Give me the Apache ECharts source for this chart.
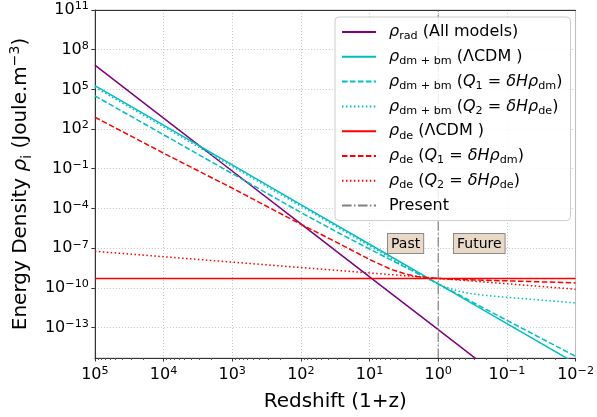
<!DOCTYPE html>
<html><head><meta charset="utf-8">
<script src="https://cdn.jsdelivr.net/npm/echarts@6/dist/echarts.min.js"></script>
<style>html,body{margin:0;padding:0;background:#fff}#c{width:597px;height:417px}</style>
</head><body><div id="c"></div>
<script>
// ---- data ----
const xDecades = [1e5, 1e4, 1e3, 1e2, 1e1, 1, 1e-1, 1e-2];
const xFine = [1e5, 1e4, 1e3, 1e2, 30, 10, 5, 3, 2, 1.5, 1, 0.7, 0.5, 0.3, 0.2, 0.1, 0.05, 0.03, 0.01];

const rhoRad     = [6.76e6, 6.76e2, 6.76e-2, 6.76e-6, 6.76e-10, 6.76e-14, 6.76e-18, 6.76e-22];          // on xDecades
const rhoDmLCDM  = [1.95e5, 1.95e2, 1.95e-1, 1.95e-4, 1.95e-7, 1.95e-10, 1.95e-13, 1.95e-16];            // on xDecades
const rhoDmQ1    = [3.24e4, 37.2, 4.27e-2, 4.9e-5, 1.66e-6, 8.51e-8, 1.35e-8, 3.47e-9, 1.2e-9, 5.75e-10,
                    1.95e-10, 7.33e-11, 2.95e-11, 7.08e-12, 2.29e-12, 3.47e-13, 5.25e-14, 1.29e-14, 6.61e-16]; // on xFine
const rhoDmQ2    = [1.47e5, 147, 0.147, 1.47e-4, 3.97e-6, 1.47e-7, 1.85e-8, 4.04e-9, 1.24e-9, 5.52e-10,
                    1.95e-10, 9.19e-11, 5.45e-11, 3.33e-11, 2.6e-11, 1.88e-11, 1.41e-11, 1.14e-11, 7.27e-12]; // on xFine
const rhoDeLCDM  = [5.1e-10, 5.1e-10, 5.1e-10, 5.1e-10, 5.1e-10, 5.1e-10, 5.1e-10, 5.1e-10];            // on xDecades
const rhoDeQ1    = [7.9e2, 1.5, 3.4e-3, 6.3e-6, 2.7e-7, 1.38e-8, 2.6e-9, 1.09e-9, 7.0e-10, 5.86e-10,
                    5.0e-10, 4.59e-10, 4.3e-10, 3.95e-10, 3.71e-10, 3.33e-10, 2.99e-10, 2.77e-10, 2.34e-10]; // on xFine
const rhoDeQ2    = [5.75e-8, 2.24e-8, 8.71e-9, 3.39e-9, 1.32e-9, 5.13e-10, 2.0e-10, 7.76e-11];           // on xDecades
const presentX   = [1, 1];
const presentY   = [4.9e-16, 1e11];

const xTicks = [1e5, 1e4, 1e3, 1e2, 1e1, 1, 1e-1, 1e-2];
const yTicks = [1e-13, 1e-10, 1e-7, 1e-4, 1e-1, 1e2, 1e5, 1e8, 1e11];
const xRange = [1e-2, 1e5];
const yRange = [4.9e-16, 1e11];

const labels = {
  rad:  '{i|ρ}{s|rad}{t| (All models)}',
  dmL:  '{i|ρ}{s|dm + bm}{t| (ΛCDM )}',
  dmQ1: '{i|ρ}{s|dm + bm}{t| (}{i|Q}{s|1}{t| = }{i|δHρ}{s|dm}{t|)}',
  dmQ2: '{i|ρ}{s|dm + bm}{t| (}{i|Q}{s|2}{t| = }{i|δHρ}{s|de}{t|)}',
  deL:  '{i|ρ}{s|de}{t| (ΛCDM )}',
  deQ1: '{i|ρ}{s|de}{t| (}{i|Q}{s|1}{t| = }{i|δHρ}{s|dm}{t|)}',
  deQ2: '{i|ρ}{s|de}{t| (}{i|Q}{s|2}{t| = }{i|δHρ}{s|de}{t|)}',
  Present: '{t|Present}'
};

// minor tick positions for the log x axis (2..9 x 10^n)
const xMinor = [];
for (let d = -2; d < 5; d++) for (let m = 2; m <= 9; m++) xMinor.push(m * Math.pow(10, d));

function zip(xs, ys) { return xs.map((x, i) => [x, ys[i]]); }
const FONT = 'DejaVu Sans';
function powLabel(v) {
  const e = Math.round(Math.log10(v));
  return '{b|10}{p|' + (e < 0 ? '\u2212' + (-e) : e) + '}';
}
const tickRich = {
  b: {fontSize: 16, lineHeight: 18, fontFamily: FONT, color: '#000'},
  p: {fontSize: 11.2, lineHeight: 11, verticalAlign: 'top', fontFamily: FONT, color: '#000'}
};

const C_PURPLE = '#800080', C_CYAN = '#00bfbf', C_RED = '#ff0000', C_GRAY = '#808080';
const DASH = [5.55, 2.4], DOT = [1.5, 2.475], DASHDOT = [9.6, 2.4, 1.5, 2.4];

function line(name, xs, ys, color, type, width) {
  return {
    name, type: 'line', data: zip(xs, ys), showSymbol: false, symbol: 'none',
    clip: true, xAxisIndex: 0, yAxisIndex: 0, z: 3,
    lineStyle: {color, width: width || 1.5, type}, itemStyle: {color}, emphasis: {disabled: true}
  };
}

const chart = echarts.init(document.getElementById('c'), null, {renderer: 'canvas', width: 597, height: 417});
chart.setOption({
  animation: false,
  textStyle: {fontFamily: FONT},
  grid: {left: 92, right: 20, top: 10, bottom: 53, show: true, borderColor: '#b8b8b8', borderWidth: 1},
  xAxis: [
    {
      type: 'log', logBase: 10, min: xRange[0], max: xRange[1], inverse: true, position: 'bottom',
      axisLine: {show: true, lineStyle: {color: '#333', width: 1}},
      axisTick: {show: true, customValues: xTicks, length: 3.5, lineStyle: {color: '#333'}},
      axisLabel: {customValues: xTicks, formatter: powLabel, rich: tickRich, margin: 8, showMinLabel: true, showMaxLabel: true},
      splitLine: {show: true, lineStyle: {type: [1, 2], color: '#c4c4c4', width: 1}},
      minorTick: {show: false},
      name: 'Redshift (1+z)', nameLocation: 'middle', nameGap: 34,
      nameTextStyle: {fontSize: 20, fontFamily: FONT, color: '#000'}
    },
    {
      type: 'log', logBase: 10, min: xRange[0], max: xRange[1], inverse: true, position: 'bottom',
      axisLine: {show: false},
      axisTick: {show: true, customValues: xMinor, length: 2, lineStyle: {color: '#555'}},
      axisLabel: {show: false}, splitLine: {show: false}
    },
    {
      type: 'log', logBase: 10, min: xRange[0], max: xRange[1], inverse: true, position: 'top',
      axisLine: {show: true, lineStyle: {color: '#333', width: 1}},
      axisTick: {show: false}, axisLabel: {show: false}, splitLine: {show: false}
    }
  ],
  yAxis: [
    {
      type: 'log', logBase: 10, min: yRange[0], max: yRange[1],
      axisLine: {show: true, lineStyle: {color: '#333', width: 1}},
      axisTick: {show: true, customValues: yTicks, length: 3.5, lineStyle: {color: '#333'}},
      axisLabel: {customValues: yTicks, formatter: powLabel, rich: tickRich, margin: 6},
      splitLine: {show: true, lineStyle: {type: [1, 2], color: '#c4c4c4', width: 1}},
      name: 'Energy Density {i|ρ}{s|i}{t| (Joule.m}{p|\u22123}{t|)}',
      nameLocation: 'middle', nameGap: 56, nameRotate: 90,
      nameTextStyle: {
        fontSize: 20, fontFamily: FONT, color: '#000', lineHeight: 26,
        rich: {
          t: {fontSize: 20, fontFamily: FONT, color: '#000', lineHeight: 26},
          i: {fontSize: 20, fontFamily: FONT, fontStyle: 'italic', color: '#000', lineHeight: 26},
          s: {fontSize: 14, fontFamily: FONT, color: '#000', lineHeight: 14, verticalAlign: 'bottom'},
          p: {fontSize: 14, fontFamily: FONT, color: '#000', lineHeight: 14, verticalAlign: 'top'}
        }
      }
    }
  ],
  legend: {
    orient: 'vertical', left: 335, top: 17,
    padding: [5, 8, 5, 6], itemGap: 4.8, itemWidth: 34, itemHeight: 20,
    backgroundColor: 'rgba(255,255,255,0.85)', borderColor: '#cccccc', borderWidth: 1, borderRadius: 4,
    data: ['rad', 'dmL', 'dmQ1', 'dmQ2', 'deL', 'deQ1', 'deQ2', 'Present'],
    itemStyle: {opacity: 0, borderWidth: 0},
    formatter: n => '{g| }' + labels[n],
    textStyle: {
      fontSize: 16, fontFamily: FONT, color: '#000', lineHeight: 20,
      rich: {
        g: {width: 8, fontSize: 16, lineHeight: 20},
        t: {fontSize: 16, fontFamily: FONT, color: '#000', lineHeight: 20},
        i: {fontSize: 16, fontFamily: FONT, fontStyle: 'italic', color: '#000', lineHeight: 20},
        s: {fontSize: 11.2, fontFamily: FONT, color: '#000', lineHeight: 11, verticalAlign: 'bottom'}
      }
    },
    selectedMode: false
  },
  graphic: [
    {type: 'text', left: 387, top: 233, z: 10,
     style: {text: 'Past', font: '14px "DejaVu Sans"', fill: '#000', backgroundColor: '#e8dac6',
             borderColor: '#8a8a8a', borderWidth: 1, padding: [2, 3, 1, 3], lineHeight: 16}},
    {type: 'text', left: 453, top: 233, z: 10,
     style: {text: 'Future', font: '14px "DejaVu Sans"', fill: '#000', backgroundColor: '#e8dac6',
             borderColor: '#8a8a8a', borderWidth: 1, padding: [2, 3, 1, 3], lineHeight: 16}}
  ],
  series: [
    line('rad', xDecades, rhoRad, C_PURPLE, 'solid'),
    line('dmL', xDecades, rhoDmLCDM, C_CYAN, 'solid'),
    line('dmQ1', xFine, rhoDmQ1, C_CYAN, DASH),
    line('dmQ2', xFine, rhoDmQ2, C_CYAN, DOT),
    line('deL', xDecades, rhoDeLCDM, C_RED, 'solid'),
    line('deQ1', xFine, rhoDeQ1, C_RED, DASH),
    line('deQ2', xDecades, rhoDeQ2, C_RED, DOT),
    line('Present', presentX, presentY, C_GRAY, DASHDOT, 1.2)
  ]
});
</script></body></html>
